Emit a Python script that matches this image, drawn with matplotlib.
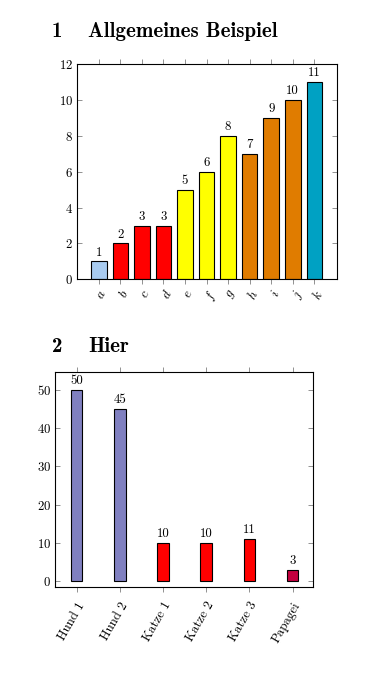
import matplotlib
matplotlib.use("Agg")
import matplotlib.pyplot as plt

plt.rcParams['font.family'] = 'cmr10'
plt.rcParams['mathtext.fontset'] = 'cm'
plt.rcParams['axes.formatter.use_mathtext'] = True

# Chart 1 data
cats1 = ['a', 'b', 'c', 'd', 'e', 'f', 'g', 'h', 'i', 'j', 'k']
vals1 = [1, 2, 3, 3, 5, 6, 8, 7, 9, 10, 11]
cols1 = ['#a8cbf0', '#ff0000', '#ff0000', '#ff0000', '#ffff00', '#ffff00', '#ffff00',
         '#e07c00', '#e07c00', '#e07c00', '#00a1c3']
yticks1 = [0, 2, 4, 6, 8, 10, 12]

# Chart 2 data
cats2 = ['Hund 1', 'Hund 2', 'Katze 1', 'Katze 2', 'Katze 3', 'Papagei']
vals2 = [50, 45, 10, 10, 11, 3]
cols2 = ['#8080c0', '#8080c0', '#ff0000', '#ff0000', '#ff0000', '#c4003f']
yticks2 = [0, 10, 20, 30, 40, 50]

W, H = 384, 681
fig = plt.figure(figsize=(W / 100, H / 100), dpi=100)

def axes_px(l, t, r, b):
    return fig.add_axes([l / W, 1 - b / H, (r - l) / W, (b - t) / H])

FS = 9.3
tickgray = '#808080'

def style(ax, xpad):
    for s in ax.spines.values():
        s.set_linewidth(0.8)
        s.set_color('black')
    ax.tick_params(axis='x', which='both', direction='out', length=3.6, width=0.6,
                   color=tickgray, top=True, bottom=True, labelsize=FS, pad=xpad)
    ax.tick_params(axis='y', which='both', direction='in', length=3.6, width=0.6,
                   color=tickgray, left=True, right=True, labelsize=FS, pad=3)

# Chart 1
ax1 = axes_px(77.3, 64.3, 336.7, 279.3)
x1 = list(range(len(cats1)))
b1 = ax1.bar(x1, vals1, width=0.72, color=cols1, edgecolor='black', linewidth=0.8)
ax1.bar_label(b1, labels=[str(v) for v in vals1], padding=2, fontsize=FS)
ax1.set_xlim(-1.0, 11.04)
ax1.set_ylim(0, 12)
ax1.set_yticks(yticks1)
ax1.set_xticks(x1)
ax1.set_xticklabels(['$' + c + '$' for c in cats1], rotation=60, ha='right', va='top',
                    rotation_mode='anchor')
style(ax1, 2.5)

# Chart 2
ax2 = axes_px(55, 372.3, 313.3, 587.3)
x2 = list(range(len(cats2)))
b2 = ax2.bar(x2, vals2, width=0.27, color=cols2, edgecolor='black', linewidth=0.8)
ax2.bar_label(b2, labels=[str(v) for v in vals2], padding=2, fontsize=FS)
ax2.set_xlim(-0.5, 5.48)
ax2.set_ylim(-1.65, 54.6)
ax2.set_yticks(yticks2)
ax2.set_xticks(x2)
ax2.set_xticklabels(cats2, rotation=60, ha='right', va='top', rotation_mode='anchor')
style(ax2, 5.5)

# Headings
HFS = 15.0
fig.text(52 / W, 1 - 36.7 / H, '1', fontfamily='cmb10', fontsize=HFS, va='baseline')
fig.text(88 / W, 1 - 36.7 / H, 'Allgemeines Beispiel', fontfamily='cmb10', fontsize=HFS,
         va='baseline')
fig.text(52 / W, 1 - 351.7 / H, '2', fontfamily='cmb10', fontsize=HFS, va='baseline')
fig.text(88 / W, 1 - 351.7 / H, 'Hier', fontfamily='cmb10', fontsize=HFS, va='baseline')

fig.savefig('out.png', dpi=100)
